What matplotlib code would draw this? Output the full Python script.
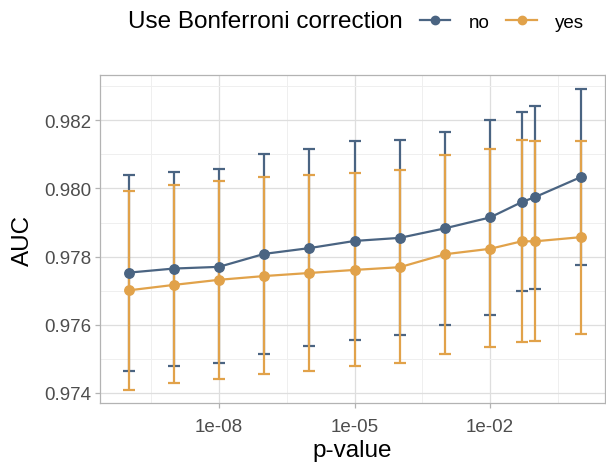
import matplotlib.pyplot as plt
from matplotlib.lines import Line2D
from matplotlib.ticker import FixedLocator, NullFormatter
import numpy as np

plt.rcParams['font.family'] = ['Liberation Sans', 'DejaVu Sans']

# p-value thresholds
pvals = [1e-10, 1e-9, 1e-8, 1e-7, 1e-6, 1e-5, 1e-4, 1e-3, 1e-2, 0.05, 0.1, 1]

# no Bonferroni correction
auc_no = [0.97753, 0.97765, 0.97770, 0.97808, 0.97825, 0.97846,
          0.97855, 0.97883, 0.97915, 0.97960, 0.97975, 0.98033]
hi_no = [0.98039, 0.98049, 0.98056, 0.98101, 0.98115, 0.98138,
         0.98141, 0.98165, 0.98201, 0.98223, 0.98242, 0.98292]
lo_no = [0.97465, 0.97479, 0.97487, 0.97514, 0.97537, 0.97555,
         0.97571, 0.97599, 0.97630, 0.97698, 0.97706, 0.97776]

# with Bonferroni correction
auc_yes = [0.97701, 0.97717, 0.97732, 0.97743, 0.97752, 0.97761,
           0.97769, 0.97807, 0.97823, 0.97845, 0.97845, 0.97857]
hi_yes = [0.97993, 0.98010, 0.98022, 0.98033, 0.98040, 0.98044,
          0.98054, 0.98099, 0.98115, 0.98141, 0.98139, 0.98139]
lo_yes = [0.97409, 0.97428, 0.97442, 0.97457, 0.97464, 0.97480,
          0.97487, 0.97514, 0.97534, 0.97549, 0.97553, 0.97572]

col_no = '#4A6482'
col_yes = '#E1A24A'

fig = plt.figure(figsize=(6.06, 4.64), dpi=100)
ax = fig.add_axes([0.165, 0.1287, 0.833, 0.7073])

series = [(auc_no, lo_no, hi_no, col_no), (auc_yes, lo_yes, hi_yes, col_yes)]

# error bars first, then lines, then points (ggplot layer order)
for m, lo, hi, c in series:
    m = np.array(m)
    err = [m - np.array(lo), np.array(hi) - m]
    ax.errorbar(pvals, m, yerr=err, fmt='none', ecolor=c, elinewidth=1.6,
                capsize=4.3, capthick=1.6, zorder=2)
for m, lo, hi, c in series:
    ax.plot(pvals, m, color=c, lw=1.6, zorder=3)
for m, lo, hi, c in series:
    ax.plot(pvals, m, 'o', color=c, ms=6.8, mec=c, zorder=4)

ax.set_xscale('log')
ax.set_xlim(10 ** -10.632, 10 ** 0.536)
ax.set_ylim(0.973698, 0.983325)

ax.xaxis.set_major_locator(FixedLocator([1e-8, 1e-5, 1e-2]))
ax.set_xticklabels(['1e-08', '1e-05', '1e-02'])
ax.xaxis.set_minor_locator(FixedLocator([10 ** -9.5, 10 ** -6.5, 10 ** -3.5, 10 ** -0.5]))
ax.xaxis.set_minor_formatter(NullFormatter())
yt = [0.974, 0.976, 0.978, 0.980, 0.982]
ax.set_yticks(yt)
ax.set_yticklabels([f'{v:.3f}' for v in yt])
ax.set_yticks([0.975, 0.977, 0.979, 0.981, 0.983], minor=True)

ax.grid(which='major', color='#DEDEDE', lw=0.9, zorder=0)
ax.grid(which='minor', color='#EFEFEF', lw=0.7, zorder=0)
ax.set_axisbelow(True)
for s in ax.spines.values():
    s.set_color('#B3B3B3')
    s.set_linewidth(0.9)

ax.tick_params(which='major', length=3.5, width=0.9, color='#B3B3B3',
               labelsize=13.5, labelcolor='#4D4D4D', pad=3)
ax.tick_params(axis='x', which='major', pad=7)
ax.tick_params(which='minor', length=0)

ax.set_xlabel('p-value', fontsize=17.5, labelpad=3)
ax.set_ylabel('AUC', fontsize=17.5, labelpad=7)

# legend on top
fig.text(128 / 606, 1 - 22 / 464, 'Use Bonferroni correction', fontsize=17.5,
         ha='left', va='center')
handles = [Line2D([], [], color=col_no, lw=1.6, marker='o', ms=6),
           Line2D([], [], color=col_yes, lw=1.6, marker='o', ms=6)]
fig.legend(handles, ['no', 'yes'], ncol=2, frameon=False, fontsize=13.5,
           loc='center left', bbox_to_anchor=(420 / 606, 1 - 23 / 464),
           handlelength=1.6, handletextpad=1.0, columnspacing=0.9,
           borderaxespad=0, borderpad=0)

fig.savefig('out.png', dpi=100)
